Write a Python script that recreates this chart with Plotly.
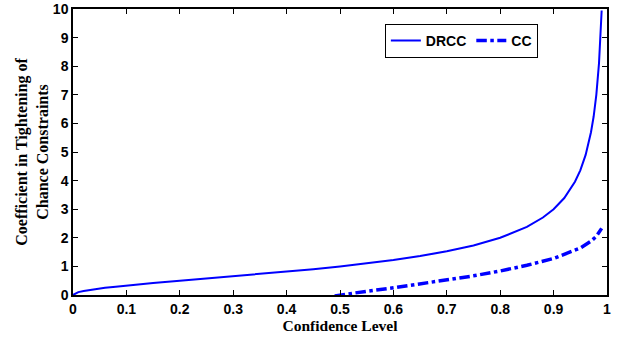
import plotly.graph_objects as go

drcc_x = [0, 0.01, 0.02, 0.04, 0.06, 0.08, 0.1, 0.15, 0.2, 0.25, 0.3, 0.35, 0.4, 0.45,
          0.5, 0.55, 0.6, 0.65, 0.7, 0.75, 0.8, 0.85, 0.88, 0.9, 0.92, 0.94, 0.95,
          0.96, 0.97, 0.975, 0.98, 0.985, 0.99]
drcc_y = [0, 0.1, 0.14, 0.2, 0.25, 0.29, 0.33, 0.42, 0.5, 0.58, 0.65, 0.73, 0.82, 0.9,
          1.0, 1.1, 1.22, 1.36, 1.53, 1.73, 2.0, 2.38, 2.71, 3.0, 3.39, 3.96, 4.36,
          4.9, 5.69, 6.24, 7.0, 8.1, 9.95]

cc_x = [0.49, 0.5, 0.55, 0.6, 0.65, 0.7, 0.75, 0.8, 0.85, 0.9, 0.93, 0.95, 0.97, 0.98, 0.99]
cc_y = [-0.03, 0, 0.13, 0.25, 0.39, 0.52, 0.67, 0.84, 1.04, 1.28, 1.48, 1.64, 1.88, 2.05, 2.33]

x_ticks = [0, 0.1, 0.2, 0.3, 0.4, 0.5, 0.6, 0.7, 0.8, 0.9, 1]
x_ticklabels = ["0", "0.1", "0.2", "0.3", "0.4", "0.5", "0.6", "0.7", "0.8", "0.9", "1"]
y_ticks = [0, 1, 2, 3, 4, 5, 6, 7, 8, 9, 10]

fig = go.Figure()
fig.add_trace(go.Scatter(x=drcc_x, y=drcc_y, mode="lines", name="DRCC",
                         line=dict(color="#0000ff", width=2)))
fig.add_trace(go.Scatter(x=cc_x, y=cc_y, mode="lines", name="CC",
                         line=dict(color="#0000ff", width=3.5, dash="dashdot")))

axis_common = dict(showgrid=False, zeroline=False, showline=True, linecolor="black",
                   linewidth=1.5, mirror="ticks", ticks="inside", ticklen=5,
                   tickcolor="black", automargin=False,
                   tickfont=dict(family="Liberation Sans, Arial", size=14, color="black",
                                 weight="bold"))

fig.update_xaxes(range=[0, 1], tickvals=x_ticks, ticktext=x_ticklabels,
                 title=dict(text="Confidence Level", standoff=2,
                            font=dict(family="Liberation Serif, Times New Roman", size=15.5,
                                      color="black", weight="bold")),
                 **axis_common)
fig.update_yaxes(range=[0, 10], tickvals=y_ticks,
                 title=dict(text="Coefficient in Tightening of<br>Chance Constraints", standoff=0,
                            font=dict(family="Liberation Serif, Times New Roman", size=16,
                                      color="black", weight="bold")),
                 **axis_common)

fig.update_layout(
    width=623, height=337,
    margin=dict(l=73, r=16, t=9, b=42),
    plot_bgcolor="white", paper_bgcolor="white",
    showlegend=True,
    legend=dict(orientation="h", x=0.584, y=0.948, xanchor="left", yanchor="top",
                bgcolor="white", bordercolor="black", borderwidth=1,
                font=dict(family="Liberation Sans, Arial", size=14, color="black",
                          weight="bold"),
                itemwidth=30, tracegroupgap=0),
)

fig.write_html("out.html", config={"displayModeBar": False},
               post_script="document.body.style.margin='0';document.body.style.padding='0';")
